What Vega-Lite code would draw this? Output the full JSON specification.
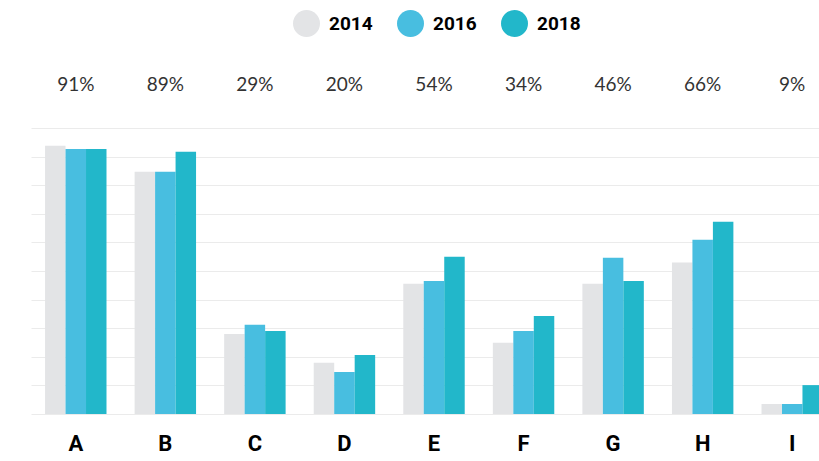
{
  "$schema": "https://vega.github.io/schema/vega-lite/v6.json",
  "width": 789,
  "height": 286,
  "autosize": {"type": "none"},
  "padding": {"left": 30, "top": 128, "right": 0, "bottom": 47},
  "background": "white",
  "config": {"view": {"stroke": null}},
  "datasets": {
    "bars": [
      {"category": "A", "year": "2014", "value": 93.8},
      {"category": "A", "year": "2016", "value": 92.7},
      {"category": "A", "year": "2018", "value": 92.7},
      {"category": "B", "year": "2014", "value": 84.7},
      {"category": "B", "year": "2016", "value": 84.7},
      {"category": "B", "year": "2018", "value": 91.7},
      {"category": "C", "year": "2014", "value": 28.0},
      {"category": "C", "year": "2016", "value": 31.2},
      {"category": "C", "year": "2018", "value": 29.0},
      {"category": "D", "year": "2014", "value": 17.9},
      {"category": "D", "year": "2016", "value": 14.7},
      {"category": "D", "year": "2018", "value": 20.6},
      {"category": "E", "year": "2014", "value": 45.5},
      {"category": "E", "year": "2016", "value": 46.5},
      {"category": "E", "year": "2018", "value": 55.0},
      {"category": "F", "year": "2014", "value": 24.9},
      {"category": "F", "year": "2016", "value": 29.0},
      {"category": "F", "year": "2018", "value": 34.3},
      {"category": "G", "year": "2014", "value": 45.5},
      {"category": "G", "year": "2016", "value": 54.6},
      {"category": "G", "year": "2018", "value": 46.5},
      {"category": "H", "year": "2014", "value": 53.0},
      {"category": "H", "year": "2016", "value": 60.9},
      {"category": "H", "year": "2018", "value": 67.2},
      {"category": "I", "year": "2014", "value": 3.5},
      {"category": "I", "year": "2016", "value": 3.5},
      {"category": "I", "year": "2018", "value": 10.1}
    ],
    "labels": [
      {"category": "A", "label": "91%"},
      {"category": "B", "label": "89%"},
      {"category": "C", "label": "29%"},
      {"category": "D", "label": "20%"},
      {"category": "E", "label": "54%"},
      {"category": "F", "label": "34%"},
      {"category": "G", "label": "46%"},
      {"category": "H", "label": "66%"},
      {"category": "I", "label": "9%"}
    ]
  },
  "layer": [
    {
      "data": {"name": "bars"},
      "mark": {"type": "bar"},
      "encoding": {
        "x": {
          "field": "category",
          "type": "nominal",
          "scale": {"range": [1, 807], "paddingInner": 0.314, "paddingOuter": 0.157},
          "axis": {
            "title": null,
            "domain": false,
            "ticks": false,
            "labelAngle": 0,
            "labelFont": "Roboto",
            "labelFontWeight": "bold",
            "labelFontSize": 22,
            "labelColor": "#000000",
            "labelPadding": 19
          }
        },
        "xOffset": {"field": "year", "type": "nominal", "sort": ["2014", "2016", "2018"]},
        "y": {
          "field": "value",
          "type": "quantitative",
          "scale": {"domain": [0, 100], "nice": false},
          "axis": {
            "title": null,
            "values": [0, 10, 20, 30, 40, 50, 60, 70, 80, 90, 100],
            "tickCount": 11,
            "labels": false,
            "ticks": false,
            "domain": false,
            "grid": true,
            "gridColor": "#ebebeb",
            "gridWidth": 1
          }
        },
        "color": {
          "field": "year",
          "type": "nominal",
          "scale": {"domain": ["2014", "2016", "2018"], "range": ["#e3e4e6", "#48bee0", "#22b7ca"]},
          "legend": {
            "title": null,
            "orient": "none",
            "direction": "horizontal",
            "legendX": 263,
            "legendY": -118,
            "symbolType": "circle",
            "symbolSize": 729,
            "symbolStrokeWidth": 0,
            "labelFont": "Roboto",
            "labelFontWeight": "bold",
            "labelFontSize": 19,
            "labelColor": "#000000",
            "labelOffset": 9,
            "columnPadding": 24
          }
        }
      }
    },
    {
      "data": {"name": "labels"},
      "mark": {"type": "text", "dy": -43, "baseline": "middle", "font": "Lato", "fontSize": 19, "color": "#333333"},
      "encoding": {
        "x": {"field": "category", "type": "nominal"},
        "y": {"datum": 100},
        "text": {"field": "label"}
      }
    }
  ]
}
